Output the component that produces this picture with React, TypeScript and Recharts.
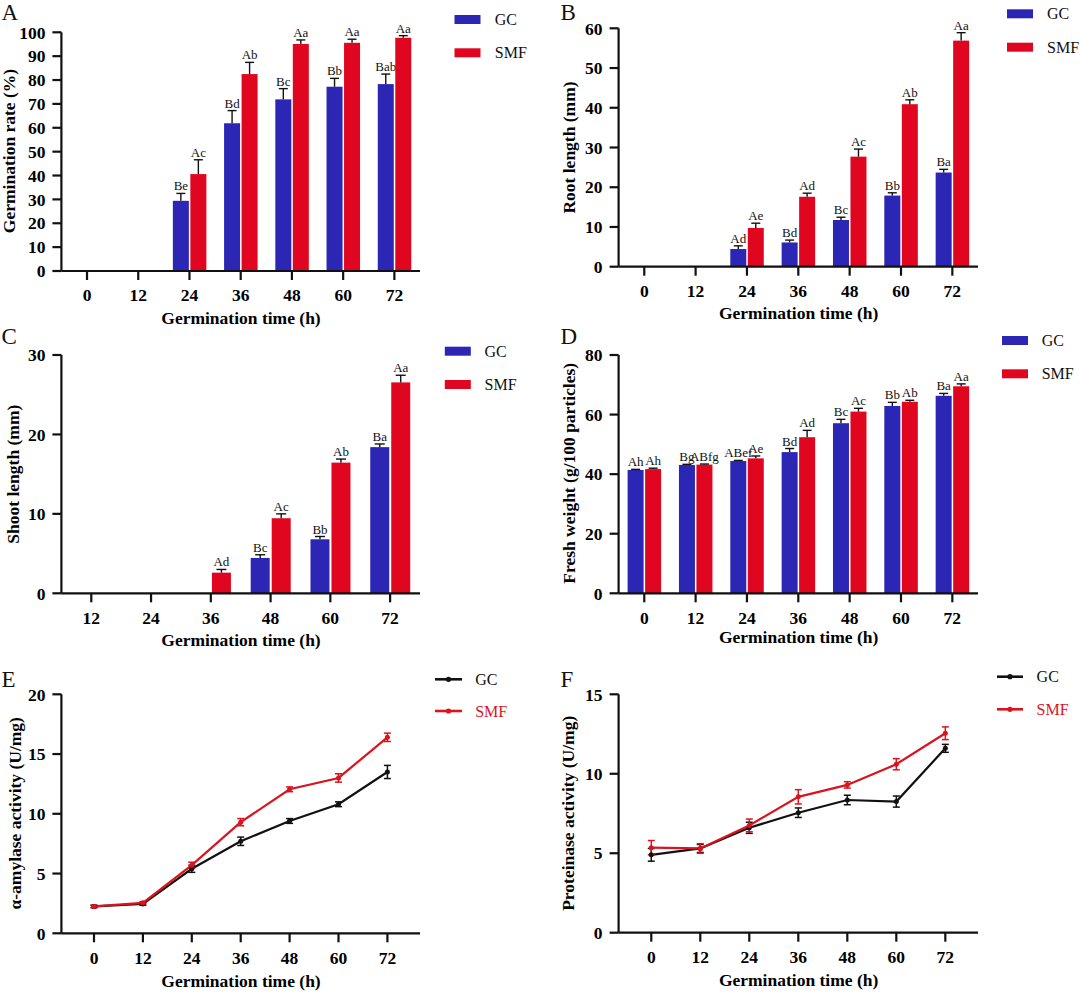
import React from 'react';
import { BarChart, Bar, LineChart, Line, XAxis, YAxis, ErrorBar, Legend } from 'recharts';

const FONT = "'Times New Roman', 'Liberation Serif', serif";
const BLUE = '#2b26b4';
const RED = '#e1061f';
const LINE_RED = '#d9141e';
const LINE_BLACK = '#111111';
const AXIS = '#111111';

// ---------- data ----------
const seriesNames = ['GC', 'SMF'];
const hours7 = ['0', '12', '24', '36', '48', '60', '72'];
const hoursShoot = ['12', '24', '36', '48', '60', '72'];
const hoursNum = [0, 12, 24, 36, 48, 60, 72];
const xTicksNum = [0, 12, 24, 36, 48, 60, 72];

// A: germination rate
const germGC = [0, 0, 29.4, 61.9, 71.9, 77.2, 78.3];
const germGCErr = [0, 0, 3.1, 5.3, 4.5, 3.5, 4.2];
const germGCLab = ['', '', 'Be', 'Bd', 'Bc', 'Bb', 'Bab'];
const germSMF = [0, 0, 40.6, 82.5, 95.1, 95.6, 97.7];
const germSMFErr = [0, 0, 6.0, 4.9, 1.7, 1.5, 0.9];
const germSMFLab = ['', '', 'Ac', 'Ab', 'Aa', 'Aa', 'Aa'];
const germTicks = [0, 10, 20, 30, 40, 50, 60, 70, 80, 90, 100];

// B: root length
const rootGC = [0, 0, 4.45, 6.1, 11.75, 17.9, 23.7];
const rootGCErr = [0, 0, 0.8, 0.6, 0.7, 0.7, 0.8];
const rootGCLab = ['', '', 'Ad', 'Bd', 'Bc', 'Bb', 'Ba'];
const rootSMF = [0, 0, 9.75, 17.6, 27.7, 40.9, 56.9];
const rootSMFErr = [0, 0, 1.2, 0.9, 1.9, 1.1, 2.0];
const rootSMFLab = ['', '', 'Ae', 'Ad', 'Ac', 'Ab', 'Aa'];
const rootTicks = [0, 10, 20, 30, 40, 50, 60];

// C: shoot length
const shootGC = [0, 0, 0, 4.45, 6.8, 18.4];
const shootGCErr = [0, 0, 0, 0.4, 0.35, 0.4];
const shootGCLab = ['', '', '', 'Bc', 'Bb', 'Ba'];
const shootSMF = [0, 0, 2.6, 9.45, 16.45, 26.55];
const shootSMFErr = [0, 0, 0.4, 0.55, 0.45, 0.9];
const shootSMFLab = ['', '', 'Ad', 'Ac', 'Ab', 'Aa'];
const shootTicks = [0, 10, 20, 30];

// D: fresh weight
const fwGC = [41.4, 43.1, 44.4, 47.4, 57.1, 62.9, 66.3];
const fwGCErr = [0.2, 0.2, 0.2, 1.2, 1.3, 1.2, 0.8];
const fwGCLab = ['Ah', 'Bg', 'ABef', 'Bd', 'Bc', 'Bb', 'Ba'];
const fwSMF = [41.7, 43.2, 45.3, 52.4, 61.0, 64.3, 69.5];
const fwSMFErr = [0.3, 0.2, 0.8, 2.3, 1.1, 0.5, 0.8];
const fwSMFLab = ['Ah', 'ABfg', 'Ae', 'Ad', 'Ac', 'Ab', 'Aa'];
const fwTicks = [0, 20, 40, 60, 80];

// E: alpha-amylase
const amyGC = [2.25, 2.45, 5.4, 7.7, 9.4, 10.8, 13.5];
const amyGCErr = [0.1, 0.1, 0.3, 0.35, 0.2, 0.2, 0.55];
const amySMF = [2.25, 2.55, 5.7, 9.3, 12.05, 13.0, 16.4];
const amySMFErr = [0.1, 0.1, 0.25, 0.3, 0.2, 0.35, 0.35];
const amyTicks = [0, 5, 10, 15, 20];

// F: proteinase
const protGC = [4.9, 5.3, 6.6, 7.55, 8.35, 8.25, 11.6];
const protGCErr = [0.4, 0.25, 0.35, 0.3, 0.3, 0.35, 0.25];
const protSMF = [5.35, 5.3, 6.75, 8.55, 9.3, 10.6, 12.55];
const protSMFErr = [0.45, 0.3, 0.4, 0.45, 0.2, 0.35, 0.4];
const protTicks = [0, 5, 10, 15];

// ---------- helpers ----------
function barRows(cats: string[], gc: number[], gcErr: number[], gcLab: string[], smf: number[], smfErr: number[], smfLab: string[]) {
  return cats.map((h, i) => ({ h, gc: gc[i], gcErr: gcErr[i], gcLab: gcLab[i], smf: smf[i], smfErr: smfErr[i], smfLab: smfLab[i] }));
}
function lineRows(hs: number[], gc: number[], gcErr: number[], smf: number[], smfErr: number[]) {
  return hs.map((h, i) => ({ h, gc: gc[i], gcErr: gcErr[i], smf: smf[i], smfErr: smfErr[i] }));
}

const tickStyle = { fill: '#000', fontSize: 17.5, fontWeight: 700, fontFamily: FONT };
const axisLineStyle = { stroke: AXIS, strokeWidth: 2.2 };

function makeBarShape(valKey: string, errKey: string, labKey: string, capHalf: number) {
  return (props: any) => {
    const { x, y, width, height, fill, payload } = props;
    const v = payload ? payload[valKey] : 0;
    if (!v || !height || height <= 0) return <g />;
    const pxPer = height / v;
    const e = (payload[errKey] || 0) * pxPer;
    const cx = x + width / 2;
    const top = y - e;
    const lab = payload[labKey];
    return (
      <g>
        <rect x={x} y={y} width={width} height={height} fill={fill} />
        {e > 0 && <line x1={cx} y1={y} x2={cx} y2={top} stroke="#111" strokeWidth={1.4} />}
        <line x1={cx - capHalf} y1={top} x2={cx + capHalf} y2={top} stroke="#111" strokeWidth={1.4} />
        {lab ? (
          <text x={cx} y={top - 3} textAnchor="middle" fontSize={13} fontFamily={FONT} fill="#111">
            {lab}
          </text>
        ) : null}
      </g>
    );
  };
}

type Box = { l: number; t: number; w: number; h: number };
type Plot = { x0: number; y0: number; x1: number; y1: number };

function margins(box: Box, plot: Plot) {
  return {
    yw: plot.x0 - box.l,
    top: plot.y0 - box.t,
    right: box.l + box.w - plot.x1,
    xh: box.t + box.h - plot.y1,
  };
}

function YTitle({ x, y, text }: { x: number; y: number; text: string }) {
  return (
    <text x={x} y={y} transform={`rotate(-90 ${x} ${y})`} textAnchor="middle" fontSize={17.5} fontWeight={700} fontFamily={FONT} fill="#000">
      {text}
    </text>
  );
}
function XTitle({ x, y, text }: { x: number; y: number; text: string }) {
  return (
    <text x={x} y={y} textAnchor="middle" fontSize={17.5} fontWeight={700} fontFamily={FONT} fill="#000">
      {text}
    </text>
  );
}

type BarLegendPos = { sx: number; sy1: number; sy2: number; tx: number };

function BarLegendSvg({ box, pos }: { box: Box; pos: BarLegendPos }) {
  const colors = [BLUE, RED];
  const ys = [pos.sy1, pos.sy2];
  return (
    <svg width={box.w} height={box.h} style={{ position: 'absolute', left: 0, top: 0, overflow: 'visible' }}>
      {seriesNames.map((n, i) => (
        <g key={n}>
          <rect x={pos.sx} y={ys[i]} width={26} height={9} fill={colors[i]} />
          <text x={pos.tx} y={ys[i] + 10} fontSize={16} fontFamily={FONT} fill="#111">
            {n}
          </text>
        </g>
      ))}
    </svg>
  );
}

type LineLegendPos = { lx0: number; lx1: number; y1: number; y2: number; tx: number };
function LineLegendSvg({ box, pos }: { box: Box; pos: LineLegendPos }) {
  const colors = [LINE_BLACK, LINE_RED];
  const ys = [pos.y1, pos.y2];
  return (
    <svg width={box.w} height={box.h} style={{ position: 'absolute', left: 0, top: 0, overflow: 'visible' }}>
      {seriesNames.map((n, i) => (
        <g key={n}>
          <line x1={pos.lx0} y1={ys[i]} x2={pos.lx1} y2={ys[i]} stroke={colors[i]} strokeWidth={2.6} />
          <circle cx={(pos.lx0 + pos.lx1) / 2} cy={ys[i]} r={2.6} fill={colors[i]} />
          <text x={pos.tx} y={ys[i] + 5.5} fontSize={16} fontFamily={FONT} fill={colors[i]}>
            {n}
          </text>
        </g>
      ))}
    </svg>
  );
}

type BarPanelProps = {
  box: Box;
  plot: Plot;
  data: any[];
  yMax: number;
  yTicks: number[];
  yTitle: string;
  yTitlePos: { x: number; y: number };
  xTitlePos: { x: number; y: number };
  legend: BarLegendPos;
  barSize: number;
  barGap: number;
  capHalf: number;
};

function BarPanel(p: BarPanelProps) {
  const m = margins(p.box, p.plot);
  return (
    <div style={{ position: 'absolute', left: p.box.l, top: p.box.t, width: p.box.w, height: p.box.h }}>
      <BarChart
        width={p.box.w}
        height={p.box.h}
        data={p.data}
        margin={{ top: m.top, right: m.right, bottom: 0, left: 0 }}
        barSize={p.barSize}
        barGap={p.barGap}
      >
        <XAxis
          dataKey="h"
          type="category"
          height={m.xh}
          axisLine={axisLineStyle}
          tickLine={axisLineStyle}
          tickSize={9}
          tickMargin={9}
          tick={tickStyle}
          interval={0}
          label={{ content: () => <XTitle x={p.xTitlePos.x} y={p.xTitlePos.y} text="Germination time (h)" /> }}
        />
        <YAxis
          type="number"
          width={m.yw}
          domain={[0, p.yMax]}
          ticks={p.yTicks}
          interval={0}
          axisLine={axisLineStyle}
          tickLine={axisLineStyle}
          tickSize={9}
          tickMargin={7}
          tick={tickStyle}
          label={{ content: () => <YTitle x={p.yTitlePos.x} y={p.yTitlePos.y} text={p.yTitle} /> }}
        />
        <Legend
          layout="vertical"
          align="center"
          verticalAlign="middle"
          wrapperStyle={{ left: 0, top: 0, width: p.box.w, height: p.box.h, pointerEvents: 'none' }}
          content={() => <BarLegendSvg box={p.box} pos={p.legend} />}
        />
        <Bar dataKey="gc" name="GC" fill={BLUE} isAnimationActive={false} shape={makeBarShape('gc', 'gcErr', 'gcLab', p.capHalf)} />
        <Bar dataKey="smf" name="SMF" fill={RED} isAnimationActive={false} shape={makeBarShape('smf', 'smfErr', 'smfLab', p.capHalf)} />
      </BarChart>
    </div>
  );
}

type LinePanelProps = {
  box: Box;
  plot: Plot;
  data: any[];
  yMax: number;
  yTicks: number[];
  yTitle: string;
  yTitlePos: { x: number; y: number };
  xTitlePos: { x: number; y: number };
  legend: LineLegendPos;
};

function LinePanel(p: LinePanelProps) {
  const m = margins(p.box, p.plot);
  return (
    <div style={{ position: 'absolute', left: p.box.l, top: p.box.t, width: p.box.w, height: p.box.h }}>
      <LineChart width={p.box.w} height={p.box.h} data={p.data} margin={{ top: m.top, right: m.right, bottom: 0, left: 0 }}>
        <XAxis
          dataKey="h"
          type="number"
          domain={[-8, 80]}
          ticks={xTicksNum}
          interval={0}
          height={m.xh}
          axisLine={axisLineStyle}
          tickLine={axisLineStyle}
          tickSize={9}
          tickMargin={9}
          tick={tickStyle}
          label={{ content: () => <XTitle x={p.xTitlePos.x} y={p.xTitlePos.y} text="Germination time (h)" /> }}
        />
        <YAxis
          type="number"
          width={m.yw}
          domain={[0, p.yMax]}
          ticks={p.yTicks}
          interval={0}
          axisLine={axisLineStyle}
          tickLine={axisLineStyle}
          tickSize={9}
          tickMargin={7}
          tick={tickStyle}
          label={{ content: () => <YTitle x={p.yTitlePos.x} y={p.yTitlePos.y} text={p.yTitle} /> }}
        />
        <Legend
          layout="vertical"
          align="center"
          verticalAlign="middle"
          wrapperStyle={{ left: 0, top: 0, width: p.box.w, height: p.box.h, pointerEvents: 'none' }}
          content={() => <LineLegendSvg box={p.box} pos={p.legend} />}
        />
        <Line
          dataKey="gc"
          name="GC"
          stroke={LINE_BLACK}
          strokeWidth={2.2}
          dot={{ r: 2.5, fill: LINE_BLACK, stroke: LINE_BLACK, strokeWidth: 0 }}
          isAnimationActive={false}
        >
          <ErrorBar dataKey="gcErr" width={3.5} stroke={LINE_BLACK} strokeWidth={1.5} direction="y" isAnimationActive={false} />
        </Line>
        <Line
          dataKey="smf"
          name="SMF"
          stroke={LINE_RED}
          strokeWidth={2.2}
          dot={{ r: 2.5, fill: LINE_RED, stroke: LINE_RED, strokeWidth: 0 }}
          isAnimationActive={false}
        >
          <ErrorBar dataKey="smfErr" width={3.5} stroke={LINE_RED} strokeWidth={1.5} direction="y" isAnimationActive={false} />
        </Line>
      </LineChart>
    </div>
  );
}

const panelLetters = [
  { t: 'A', x: 1.5, y: 20 },
  { t: 'B', x: 560.5, y: 19.5 },
  { t: 'C', x: 1.5, y: 344 },
  { t: 'D', x: 560.5, y: 344 },
  { t: 'E', x: 1.5, y: 687 },
  { t: 'F', x: 560.5, y: 687 },
];

export default function App() {
  const dataA = barRows(hours7, germGC, germGCErr, germGCLab, germSMF, germSMFErr, germSMFLab);
  const dataB = barRows(hours7, rootGC, rootGCErr, rootGCLab, rootSMF, rootSMFErr, rootSMFLab);
  const dataC = barRows(hoursShoot, shootGC, shootGCErr, shootGCLab, shootSMF, shootSMFErr, shootSMFLab);
  const dataD = barRows(hours7, fwGC, fwGCErr, fwGCLab, fwSMF, fwSMFErr, fwSMFLab);
  const dataE = lineRows(hoursNum, amyGC, amyGCErr, amySMF, amySMFErr);
  const dataF = lineRows(hoursNum, protGC, protGCErr, protSMF, protSMFErr);

  return (
    <div style={{ position: 'absolute', left: 0, top: 0, width: 1080, height: 994, background: '#fff', overflow: 'hidden', fontFamily: FONT }}>
      <BarPanel
        box={{ l: 0, t: 0, w: 540, h: 330 }}
        plot={{ x0: 61.4, y0: 32.3, x1: 420, y1: 271 }}
        data={dataA}
        yMax={100}
        yTicks={germTicks}
        yTitle="Germination rate (%)"
        yTitlePos={{ x: 15, y: 151 }}
        xTitlePos={{ x: 241, y: 324 }}
        legend={{ sx: 454.5, sy1: 15, sy2: 48.3, tx: 494.8 }}
        barSize={16}
        barGap={1.5}
        capHalf={4.5}
      />
      <BarPanel
        box={{ l: 540, t: 0, w: 540, h: 330 }}
        plot={{ x0: 618.6, y0: 28.3, x1: 978, y1: 266.7 }}
        data={dataB}
        yMax={60}
        yTicks={rootTicks}
        yTitle="Root length (mm)"
        yTitlePos={{ x: 35, y: 147.5 }}
        xTitlePos={{ x: 258.6, y: 319 }}
        legend={{ sx: 467, sy1: 9.3, sy2: 42.7, tx: 507 }}
        barSize={16}
        barGap={1.5}
        capHalf={4.5}
      />
      <BarPanel
        box={{ l: 0, t: 330, w: 540, h: 320 }}
        plot={{ x0: 61.4, y0: 355, x1: 420, y1: 593.3 }}
        data={dataC}
        yMax={30}
        yTicks={shootTicks}
        yTitle="Shoot length (mm)"
        yTitlePos={{ x: 19.3, y: 144.2 }}
        xTitlePos={{ x: 241, y: 316 }}
        legend={{ sx: 444.8, sy1: 16.7, sy2: 50, tx: 484.5 }}
        barSize={19}
        barGap={2}
        capHalf={5}
      />
      <BarPanel
        box={{ l: 540, t: 330, w: 540, h: 320 }}
        plot={{ x0: 618.6, y0: 355, x1: 978, y1: 593.3 }}
        data={dataD}
        yMax={80}
        yTicks={fwTicks}
        yTitle="Fresh weight (g/100 particles)"
        yTitlePos={{ x: 35, y: 143.3 }}
        xTitlePos={{ x: 258.6, y: 312.5 }}
        legend={{ sx: 462, sy1: 6, sy2: 39.3, tx: 501.7 }}
        barSize={16}
        barGap={1.5}
        capHalf={4.5}
      />
      <LinePanel
        box={{ l: 0, t: 650, w: 540, h: 344 }}
        plot={{ x0: 61.4, y0: 694.3, x1: 420, y1: 933.3 }}
        data={dataE}
        yMax={20}
        yTicks={amyTicks}
        yTitle="α-amylase activity (U/mg)"
        yTitlePos={{ x: 20.6, y: 163.3 }}
        xTitlePos={{ x: 241, y: 337 }}
        legend={{ lx0: 435, lx1: 462, y1: 29.3, y2: 61, tx: 475.2 }}
      />
      <LinePanel
        box={{ l: 540, t: 650, w: 540, h: 344 }}
        plot={{ x0: 618.6, y0: 694.3, x1: 978, y1: 932.7 }}
        data={dataF}
        yMax={15}
        yTicks={protTicks}
        yTitle="Proteinase activity (U/mg)"
        yTitlePos={{ x: 34.5, y: 163.3 }}
        xTitlePos={{ x: 258.6, y: 336 }}
        legend={{ lx0: 457, lx1: 483, y1: 26.7, y2: 59.3, tx: 496.6 }}
      />
      <svg width={1080} height={994} style={{ position: 'absolute', left: 0, top: 0, pointerEvents: 'none' }}>
        {panelLetters.map((l) => (
          <text key={l.t} x={l.x} y={l.y} fontSize={23} fontFamily={FONT} fill="#111">
            {l.t}
          </text>
        ))}
      </svg>
    </div>
  );
}
